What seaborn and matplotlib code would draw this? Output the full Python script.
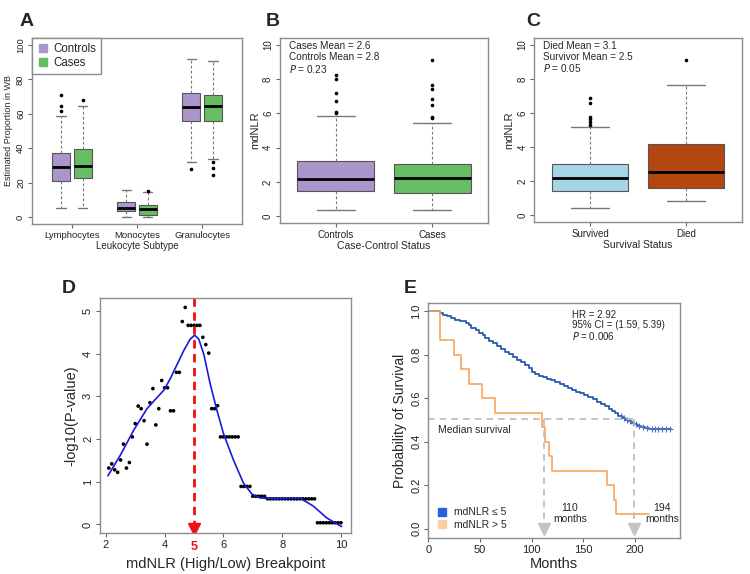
import numpy as np
import matplotlib
matplotlib.use("Agg")
import matplotlib.pyplot as plt
import seaborn as sns
from matplotlib.lines import Line2D

# ---------------- data ----------------
# A: leukocyte subtype proportions (Controls, Cases per subtype)
subtypes = ["Lymphocytes", "Monocytes", "Granulocytes"]
a_med = [29, 29.5, 5.5, 4.5, 64.1, 64.7]
a_q1 = [21, 22.5, 3.5, 1.5, 55.9, 55.9]
a_q3 = [37, 39.5, 9, 7, 71.8, 70.9]
a_lo = [5, 5, 0, 0, 32.2, 33.6]
a_hi = [58.8, 64.5, 15.5, 14.5, 91.8, 90.9]
a_fl = [[61.7, 64.7, 71], [68], [], [15], [27.8], [32.2, 28.7, 24.5]]

# B: mdNLR by case-control status
b_groups = ["Controls", "Cases"]
b_med = [2.14, 2.21]
b_q1 = [1.46, 1.38]
b_q3 = [3.24, 3.07]
b_lo = [0.35, 0.35]
b_hi = [5.83, 5.44]
b_fl = [[6.02, 6.08, 6.72, 7.18, 8.0, 8.25], [5.71, 5.79, 6.46, 6.85, 7.44, 7.64, 9.1]]

# C: mdNLR by survival status
c_groups = ["Survived", "Died"]
c_med = [2.19, 2.54]
c_q1 = [1.42, 1.61]
c_q3 = [2.99, 4.19]
c_lo = [0.41, 0.82]
c_hi = [5.2, 7.65]
c_fl = [[5.3, 5.46, 5.65, 5.79, 6.56, 6.9], [9.13]]

# D: -log10(P) for each breakpoint 2.1 .. 10.0
breakpoints = np.round(np.arange(2.1, 10.01, 0.1), 1)
neglogp = [1.32, 1.42, 1.28, 1.22, 1.51, 1.88, 1.32, 1.45, 2.05, 2.36,
           2.77, 2.71, 2.43, 1.88, 2.85, 3.18, 2.33, 2.71, 3.37, 3.20,
           3.20, 2.66, 2.66, 3.56, 3.56, 4.75, 5.08, 4.66, 4.66, 4.66,
           4.66, 4.66, 4.38, 4.21, 4.01, 2.71, 2.71, 2.78, 2.05, 2.05,
           2.05, 2.05, 2.05, 2.05, 2.05, 0.89, 0.89, 0.89, 0.89, 0.66,
           0.66, 0.66, 0.66, 0.66, 0.60, 0.60, 0.60, 0.60, 0.60, 0.60,
           0.60, 0.60, 0.60, 0.60, 0.60, 0.60, 0.60, 0.60, 0.60, 0.60,
           0.60, 0.04, 0.04, 0.04, 0.04, 0.04, 0.04, 0.04, 0.04, 0.04]
smooth_x = [2.07, 2.5, 2.95, 3.4, 3.74, 3.97, 4.19, 4.42, 4.65, 4.87, 5.02,
            5.16, 5.33, 5.55, 5.78, 6.0, 6.34, 6.68, 6.97, 7.25, 7.81, 8.6,
            9.06, 9.51, 10.02]
smooth_y = [1.14, 1.63, 2.21, 2.71, 2.97, 3.14, 3.41, 3.74, 4.07, 4.34, 4.43,
            4.34, 3.99, 3.29, 2.67, 2.13, 1.51, 0.97, 0.71, 0.62, 0.60, 0.62,
            0.43, 0.155, -0.05]

# E: Kaplan-Meier curves
low_t = [0, 11, 14, 18, 22, 26, 31, 36, 39, 41, 46, 49, 53, 55, 59, 63, 66,
         70, 74, 78, 82, 86, 90, 94, 97, 100, 103, 107, 111, 115, 119, 123,
         127, 131, 135, 139, 143, 147, 151, 155, 159, 163, 167, 171, 175,
         178, 181, 184, 187, 190, 193, 196, 199, 202, 206, 210, 214, 235]
low_s = [1.0, 0.993, 0.985, 0.977, 0.970, 0.962, 0.955, 0.948, 0.935, 0.922,
         0.912, 0.900, 0.890, 0.876, 0.865, 0.852, 0.840, 0.828, 0.815, 0.803,
         0.790, 0.778, 0.765, 0.752, 0.738, 0.722, 0.710, 0.703, 0.697, 0.690,
         0.683, 0.675, 0.667, 0.658, 0.649, 0.640, 0.630, 0.622, 0.614, 0.605,
         0.596, 0.585, 0.574, 0.563, 0.551, 0.540, 0.530, 0.520, 0.510, 0.502,
         0.494, 0.487, 0.480, 0.472, 0.466, 0.462, 0.459, 0.459]
low_cens = [186, 189, 192, 195, 198, 201, 204, 208, 212, 216, 219, 222, 226, 230, 234]
high_t = [0, 11, 25, 32, 39, 52, 65, 110, 113, 117, 120, 173, 180, 182, 214]
high_s = [1.0, 0.867, 0.8, 0.733, 0.667, 0.6, 0.533, 0.467, 0.4, 0.333, 0.267,
          0.2, 0.133, 0.067, 0.067]
median_t = [112, 199]

# ---------------- style ----------------
sns.set_theme(style="ticks")
plt.rcParams['font.family'] = ['Liberation Sans', 'DejaVu Sans']
plt.rcParams['axes.edgecolor'] = '#8c8c8c'
plt.rcParams['xtick.color'] = '#666666'
plt.rcParams['ytick.color'] = '#666666'
plt.rcParams['xtick.labelcolor'] = '#222222'
plt.rcParams['ytick.labelcolor'] = '#222222'

purple, green = '#AA96CB', '#66BD63'
lightblue, rust = '#A6D5E8', '#B4460F'

fig = plt.figure(figsize=(7.5, 5.74), dpi=100)
axA = fig.add_axes([0.0427, 0.6098, 0.28, 0.324])
axB = fig.add_axes([0.3733, 0.6115, 0.2773, 0.3223])
axC = fig.add_axes([0.7124, 0.6132, 0.2765, 0.3206])
axD = fig.add_axes([0.1333, 0.0714, 0.3347, 0.4094])
axE = fig.add_axes([0.5711, 0.0622, 0.3356, 0.4099])


def stats(med, q1, q3, lo, hi, fl):
    return [dict(med=m, q1=a, q3=b, whislo=l, whishi=h, fliers=f)
            for m, a, b, l, h, f in zip(med, q1, q3, lo, hi, fl)]


def boxes(ax, st, pos, colors, width):
    parts = ax.bxp(st, positions=pos, widths=width, patch_artist=True,
                   boxprops=dict(edgecolor='#555555', linewidth=0.8),
                   whiskerprops=dict(color='#777777', linestyle=(0, (2.5, 2)), linewidth=0.8),
                   capprops=dict(color='#777777', linewidth=1.0),
                   medianprops=dict(color='black', linewidth=2),
                   flierprops=dict(marker='o', markersize=1.6, markerfacecolor='black',
                                   markeredgecolor='black'))
    for p, c in zip(parts['boxes'], colors):
        p.set_facecolor(c)


def frame(ax, fs):
    for s in ax.spines.values():
        s.set_visible(True)
        s.set_linewidth(1.0)
    ax.tick_params(length=3, width=0.8, pad=2, labelsize=fs)
    plt.setp(ax.get_yticklabels(), rotation=90, va='center')


# ---- A
boxes(axA, stats(a_med, a_q1, a_q3, a_lo, a_hi, a_fl), [1, 2, 4, 5, 7, 8],
      [purple, green] * 3, 0.85)
axA.set_xlim(-0.34, 9.34)
axA.set_ylim(-4, 104)
axA.set_yticks([0, 20, 40, 60, 80, 100])
axA.set_xticks([1.5, 4.5, 7.5])
axA.set_xticklabels(subtypes)
axA.set_xlabel("Leukocyte Subtype", fontsize=7, labelpad=1)
axA.set_ylabel("Estimated Proportion in WB", fontsize=6.5, labelpad=2)
frame(axA, 6.8)
axA.legend(handles=[Line2D([], [], marker='s', ls='', color=purple, ms=6),
                    Line2D([], [], marker='s', ls='', color=green, ms=6)],
           labels=["Controls", "Cases"], loc='upper left', borderaxespad=0,
           fancybox=False, edgecolor='#8c8c8c', fontsize=8.3, handletextpad=0.4,
           handlelength=1.0, labelspacing=0.15, borderpad=0.45, framealpha=1)

# ---- B
boxes(axB, stats(b_med, b_q1, b_q3, b_lo, b_hi, b_fl), [1, 2], [purple, green], 0.8)
axB.set_xlim(0.42, 2.58)
axB.set_ylim(-0.4, 10.4)
axB.set_yticks(range(0, 11, 2))
axB.set_xticks([1, 2])
axB.set_xticklabels(b_groups)
axB.set_xlabel("Case-Control Status", fontsize=7.5, labelpad=1)
axB.set_ylabel("mdNLR", fontsize=8, labelpad=2)
frame(axB, 7)
for i, t in enumerate(["Cases Mean = 2.6", "Controls Mean = 2.8", r"$\it{P}$ = 0.23"]):
    axB.text(0.045, 0.955 - i * 0.06, t, transform=axB.transAxes, fontsize=7.2, va='center')

# ---- C
boxes(axC, stats(c_med, c_q1, c_q3, c_lo, c_hi, c_fl), [1, 2], [lightblue, rust], 0.8)
axC.set_xlim(0.42, 2.58)
axC.set_ylim(-0.4, 10.4)
axC.set_yticks(range(0, 11, 2))
axC.set_xticks([1, 2])
axC.set_xticklabels(c_groups)
axC.set_xlabel("Survival Status", fontsize=7.5, labelpad=1)
axC.set_ylabel("mdNLR", fontsize=8, labelpad=2)
frame(axC, 7)
for i, t in enumerate(["Died Mean = 3.1", "Survivor Mean = 2.5", r"$\it{P}$ = 0.05"]):
    axC.text(0.04, 0.955 - i * 0.06, t, transform=axC.transAxes, fontsize=7.2, va='center')

# ---- D
sns.scatterplot(x=breakpoints, y=neglogp, ax=axD, color='black', s=7, edgecolor='none')
sns.lineplot(x=smooth_x, y=smooth_y, ax=axD, color='#1a1adc', lw=1.2)
axD.plot([5, 5], [5.3, -0.02], color='#ee1111', ls=(0, (3, 2)), lw=2)
axD.plot([5], [-0.1], marker='v', color='#ee1111', ms=9)
axD.set_xlim(1.8, 10.34)
axD.set_ylim(-0.2, 5.3)
axD.set_xticks([2, 4, 6, 8, 10])
axD.set_yticks(range(0, 6))
axD.set_xlabel("mdNLR (High/Low) Breakpoint", fontsize=10.5, labelpad=5)
axD.set_ylabel("-log10(P-value)", fontsize=10.5, labelpad=3)
frame(axD, 8)
axD.annotate("5", xy=(5, 0), xycoords=('data', 'axes fraction'), xytext=(0, -5.5),
             textcoords='offset points', ha='center', va='top', color='#ee1111',
             fontsize=9, fontweight='bold')

# ---- E
axE.step(low_t, low_s, where='post', color='#2B5BB0', lw=1.3)
cy = [low_s[np.searchsorted(low_t, t, side='right') - 1] for t in low_cens]
axE.plot(low_cens, cy, ls='', marker='+', ms=4, mew=0.8, color='#4a74c4')
axE.step(high_t, high_s, where='post', color='#F7A65C', lw=1.2)
axE.plot([0, median_t[1]], [0.505, 0.505], color='#bbbbbb', ls=(0, (4, 3)), lw=1.2)
for t in median_t:
    axE.plot([t, t], [0.505, 0.02], color='#bbbbbb', ls=(0, (4, 3)), lw=1.2)
    axE.plot([t], [0.0], marker='v', color='#c4c4c4', ms=8)
axE.text(137, 0.07, "110\nmonths", ha='center', va='center', fontsize=7.5, linespacing=1.1)
axE.text(226, 0.07, "194\nmonths", ha='center', va='center', fontsize=7.5, linespacing=1.1)
axE.text(9.7, 0.456, "Median survival", ha='left', va='center', fontsize=7.5)
for i, t in enumerate(["HR = 2.92", "95% CI = (1.59, 5.39)", r"$\it{P}$ = 0.006"]):
    axE.text(139, 0.985 - i * 0.05, t, fontsize=7, va='center')
axE.legend(handles=[Line2D([], [], marker='s', ls='', color='#2A5FE0', ms=6),
                    Line2D([], [], marker='s', ls='', color='#FBCFA5', ms=6)],
           labels=["mdNLR \u2264 5", "mdNLR > 5"], loc='lower left',
           bbox_to_anchor=(0.0, -0.005), frameon=False, fontsize=7.5,
           handlelength=0.8, handletextpad=0.8, labelspacing=0.25)
axE.set_xlim(0, 243.6)
axE.set_ylim(-0.044, 1.038)
axE.set_xticks([0, 50, 100, 150, 200])
axE.set_yticks([0.0, 0.2, 0.4, 0.6, 0.8, 1.0])
axE.set_yticklabels(["0.0", "0.2", "0.4", "0.6", "0.8", "1.0"])
axE.set_xlabel("Months", fontsize=10.5, labelpad=1)
axE.set_ylabel("Probability of Survival", fontsize=10, labelpad=3)
frame(axE, 8)

# panel letters
for lab, x, y in [("A", 0.035, 0.962), ("B", 0.364, 0.962), ("C", 0.711, 0.962),
                  ("D", 0.092, 0.498), ("E", 0.547, 0.498)]:
    fig.text(x, y, lab, fontsize=14, fontweight='bold', ha='center', va='center')

fig.savefig("out.png", dpi=100)
